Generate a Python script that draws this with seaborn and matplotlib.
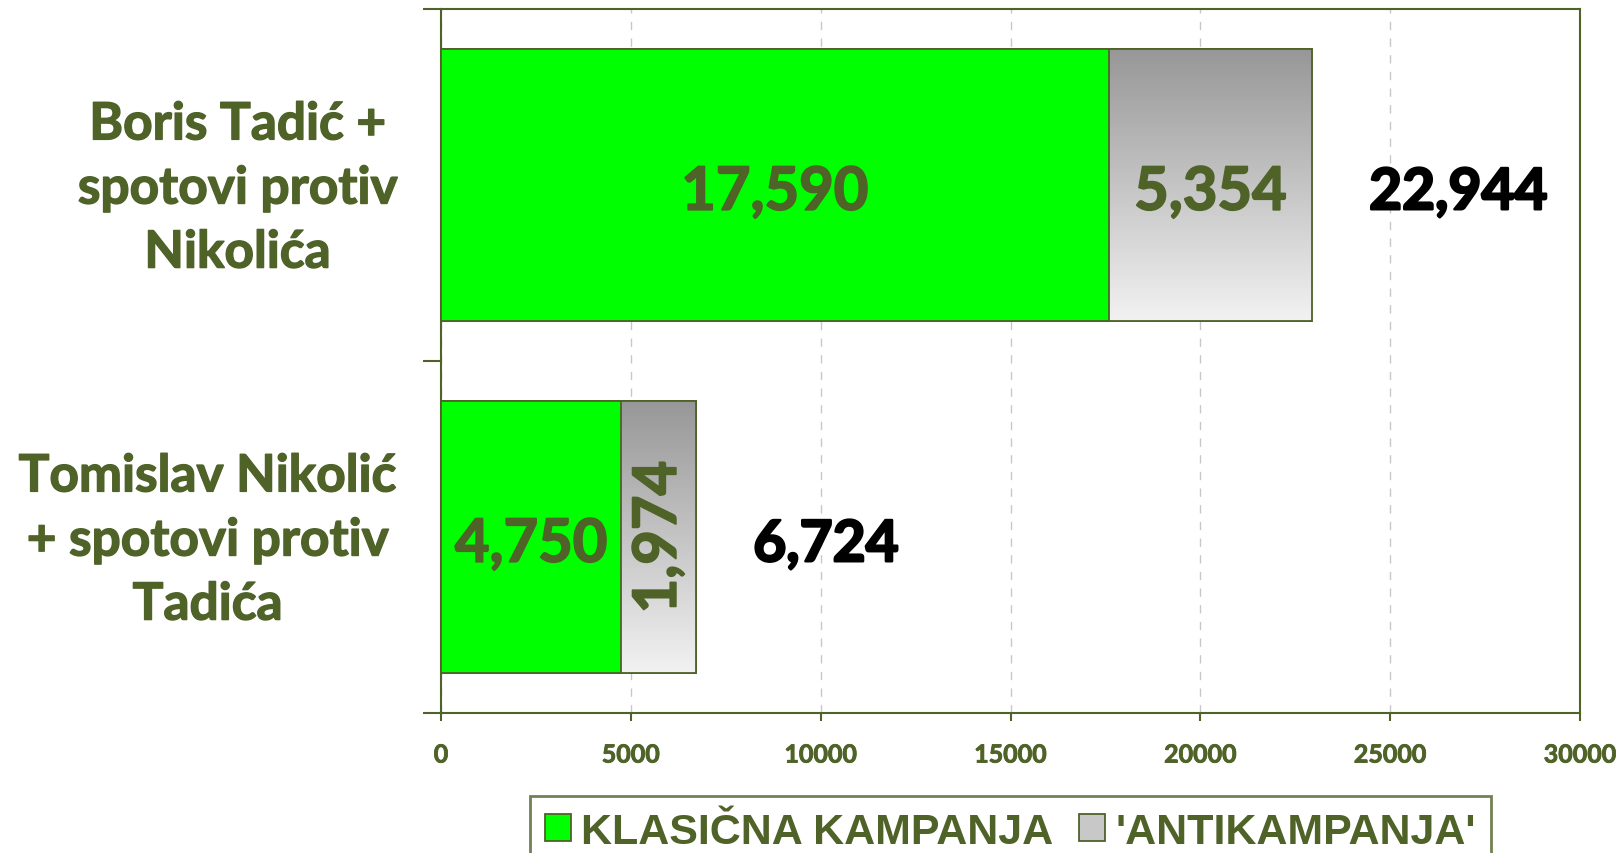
import numpy as np
import pandas as pd
import seaborn as sns
import matplotlib
matplotlib.use("Agg")
from matplotlib import pyplot as plt
from matplotlib import patheffects
from matplotlib.patches import Patch
from matplotlib.transforms import ScaledTranslation

kandidati = ["Boris Tadić +\nspotovi protiv\nNikolića",
             "Tomislav Nikolić\n+ spotovi protiv\nTadića"]
klasicna = [17590, 4750]
antikampanja = [5354, 1974]
ukupno = [22944, 6724]
x_ticks = [0, 5000, 10000, 15000, 20000, 25000, 30000]

GREEN_TXT = '#4F6228'
BAR_GREEN = '#00FF00'

df = pd.DataFrame({'Kandidat': kandidati, 'Klasicna': klasicna,
                   'Anti': antikampanja, 'Ukupno': ukupno})

sns.set_style('white')
plt.rcParams['font.family'] = ['Lato', 'DejaVu Sans']

fig, ax = plt.subplots(figsize=(16.19, 8.54), dpi=100)
fig.subplots_adjust(left=441/1619, right=1580/1619, top=1 - 10/854, bottom=1 - 714/854)

thick = [patheffects.withStroke(linewidth=1.3, foreground=GREEN_TXT)]

# total bars (grey part shows past the green)
sns.barplot(data=df, y='Kandidat', x='Ukupno', orient='h', color='#cccccc', saturation=1,
            width=0.77, edgecolor=GREEN_TXT, linewidth=1.3, ax=ax, zorder=2)
tot_patches = list(ax.patches)

# gradient fill on the 'antikampanja' part
grad = np.linspace(0.0, 1.0, 256).reshape(-1, 1)
cmap = matplotlib.colors.LinearSegmentedColormap.from_list('g', ['#979797', '#f2f2f2'])
for p, k in zip(tot_patches, df['Klasicna']):
    y0, h = p.get_y(), p.get_height()
    im = ax.imshow(grad, cmap=cmap, aspect='auto', origin='upper',
                   extent=(k, p.get_width(), y0 + h, y0), zorder=2.5)
    im.set_clip_path(p)
    ax.add_patch(plt.Rectangle((p.get_x(), y0), p.get_width(), h, fill=False,
                               edgecolor=GREEN_TXT, lw=1.3, zorder=2.6))

sns.barplot(data=df, y='Kandidat', x='Klasicna', orient='h', color=BAR_GREEN, saturation=1,
            width=0.77, edgecolor=GREEN_TXT, linewidth=1.3, ax=ax, zorder=3)

# value labels (sit a little below bar centre, like the original)
dy = 0.022
for i, (k, a, t) in enumerate(zip(klasicna, antikampanja, ukupno)):
    ax.text(k / 2, i + dy, f'{k:,}', ha='center', va='center', fontsize=43,
            fontweight='bold', color=GREEN_TXT, zorder=5, path_effects=thick)
    rot = 90 if a < 3000 else 0
    ax.text(k + a / 2, i + (0 if rot else dy), f'{a:,}', ha='center', va='center',
            fontsize=43, fontweight='bold', color=GREEN_TXT, rotation=rot, zorder=5,
            path_effects=thick)
    ax.text(t + 1500, i + dy, f'{t:,}', ha='left', va='center', fontsize=41,
            fontweight='bold', color='black', zorder=5,
            path_effects=[patheffects.withStroke(linewidth=1.8, foreground='black')])

ax.set_xlim(0, 30000)
ax.set_ylim(1.5, -0.5)
ax.set_xticks(x_ticks)
ax.set_xticklabels([str(v) for v in x_ticks])
ax.set_xlabel('')
ax.set_ylabel('')
ax.xaxis.grid(True, linestyle=(0, (6, 6)), color='#c8c8c8', lw=1, zorder=0)
ax.set_axisbelow(True)

for s in ax.spines.values():
    s.set_color(GREEN_TXT)
    s.set_linewidth(1.5)

ax.tick_params(axis='x', bottom=True, direction='out', length=6, width=1.5, color=GREEN_TXT,
               labelsize=18, labelcolor=GREEN_TXT, pad=16)
for lbl in ax.get_xticklabels():
    lbl.set_fontweight('bold')
    lbl.set_path_effects([patheffects.withStroke(linewidth=0.6, foreground=GREEN_TXT)])

ax.set_yticks([-0.5, 0.5, 1.5], minor=True)
ax.tick_params(axis='y', which='minor', left=True, direction='out', length=13, width=1.5,
               color=GREEN_TXT)
ax.tick_params(axis='y', which='major', left=False, length=0, labelsize=37,
               labelcolor=GREEN_TXT, pad=150)
offsets = [5, -25]
for lbl, off in zip(ax.get_yticklabels(), offsets):
    lbl.set_fontweight('bold')
    lbl.set_ha('center')
    lbl.set_va('center')
    lbl.set_linespacing(1.45)
    lbl.set_path_effects([patheffects.withStroke(linewidth=1.0, foreground=GREEN_TXT)])
    lbl.set_transform(lbl.get_transform() + ScaledTranslation(off / 100, -4 / 100, fig.dpi_scale_trans))

handles = [Patch(facecolor=BAR_GREEN, edgecolor=GREEN_TXT, lw=1.3),
           Patch(facecolor='#c8c8c8', edgecolor=GREEN_TXT, lw=1.3)]
leg = ax.legend(handles, ['KLASIČNA KAMPANJA', "'ANTIKAMPANJA'"], loc='upper center',
                bbox_to_anchor=(0.5, -0.088), ncol=2, frameon=True, fancybox=False,
                handlelength=0.6, handleheight=0.6, handletextpad=0.25, columnspacing=0.6,
                borderpad=0.35,
                prop={'family': ['Liberation Sans Narrow', 'Liberation Sans'],
                      'weight': 'bold', 'size': 31})
leg.get_frame().set_edgecolor(GREEN_TXT)
leg.get_frame().set_linewidth(2)
for t in leg.get_texts():
    t.set_color(GREEN_TXT)

fig.savefig('out.png', dpi=100)
